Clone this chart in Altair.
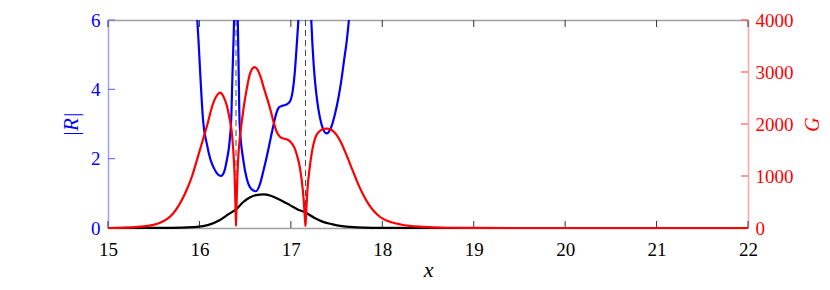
import altair as alt
import pandas as pd

# ---------------- data ----------------
x_ticks = [15, 16, 17, 18, 19, 20, 21, 22]
R_ticks = [0, 2, 4, 6]
G_ticks = [0, 1000, 2000, 3000, 4000]
pole_x = [16.40, 17.16]

# |R| (blue), three branches separated by the poles
r1_x = [15.97, 15.99, 16.01, 16.04, 16.08, 16.12, 16.16, 16.20, 16.235, 16.27, 16.30, 16.33, 16.35, 16.36, 16.375, 16.385]
r1_y = [6.3, 5.4, 4.4, 3.1, 2.44, 1.98, 1.72, 1.55, 1.50, 1.62, 1.96, 2.5, 3.3, 4.3, 5.6, 6.6]

r2_x = [16.415, 16.425, 16.44, 16.48, 16.52, 16.55, 16.59, 16.62, 16.66, 16.70, 16.74, 16.78, 16.81, 16.84,
        16.87, 16.91, 16.95, 16.99, 17.02, 17.04, 17.06, 17.08, 17.095]
r2_y = [6.6, 5.2, 3.0, 1.96, 1.40, 1.19, 1.08, 1.06, 1.25, 1.65, 2.1, 2.6, 2.97, 3.3,
        3.48, 3.53, 3.56, 3.65, 3.95, 4.4, 5.1, 5.9, 6.6]

r3_x = [17.215, 17.225, 17.25, 17.275, 17.30, 17.34, 17.39, 17.44, 17.48, 17.52, 17.55, 17.58, 17.61, 17.635, 17.65]
r3_y = [6.6, 5.9, 4.7, 3.95, 3.45, 2.95, 2.73, 2.9, 3.26, 3.75, 4.22, 4.8, 5.37, 6.0, 6.5]

# G (red, right axis)
g_x = [15.0, 15.2, 15.35, 15.5, 15.57, 15.64, 15.71, 15.78, 15.86, 15.92, 15.97, 16.03, 16.08, 16.15, 16.20,
       16.225, 16.26, 16.30, 16.33, 16.35, 16.37, 16.385, 16.395, 16.40, 16.405, 16.415, 16.43, 16.44, 16.46,
       16.48, 16.52, 16.55, 16.58, 16.60, 16.63, 16.67, 16.70, 16.74, 16.78, 16.81, 16.85, 16.88, 16.92, 16.96,
       17.00, 17.04, 17.07, 17.10, 17.12, 17.14, 17.155, 17.16, 17.165, 17.18, 17.21, 17.25, 17.28, 17.32,
       17.36, 17.40, 17.45, 17.50, 17.55, 17.60, 17.65, 17.70, 17.75, 17.80, 17.85, 17.90, 17.95,
       18.00, 18.10, 18.20, 18.30, 18.40, 18.50, 18.70, 19.0, 20.0, 21.0, 22.0]
g_y = [0, 6, 25, 60, 100, 165, 275, 450, 731, 1000, 1290, 1650, 1948, 2398, 2570,
       2602, 2540, 2350, 2100, 1900, 1500, 1000, 400, 40, 400, 1000, 1500, 1700, 2000,
       2269, 2700, 2950, 3070, 3095, 3060, 2900, 2720, 2494, 2250, 2045, 1830, 1756, 1720, 1700,
       1650, 1540, 1380, 1150, 900, 550, 150, 40, 200, 700, 1212, 1628, 1788, 1870,
       1905, 1912, 1880, 1790, 1640, 1440, 1220, 1000, 790, 610, 460, 340, 250,
       185, 110, 68, 42, 26, 15, 5, 1, 0, 0, 0]

# black curve (left axis)
b_x = [15.0, 15.6, 15.8, 15.97, 16.1, 16.225, 16.32, 16.41, 16.48, 16.55, 16.62, 16.70, 16.78, 16.85,
       16.92, 16.99, 17.08, 17.15, 17.26, 17.36, 17.45, 17.54, 17.65, 17.8, 18.0, 19.0, 22.0]
b_y = [0, 0.003, 0.01, 0.03, 0.09, 0.23, 0.40, 0.56, 0.75, 0.88, 0.95, 0.97, 0.93, 0.85,
       0.76, 0.66, 0.53, 0.46, 0.29, 0.17, 0.11, 0.06, 0.03, 0.01, 0.003, 0, 0]

# ---------------- tables ----------------
blue_df = pd.concat([
    pd.DataFrame({"x": r1_x, "y": r1_y, "seg": "a"}),
    pd.DataFrame({"x": r2_x, "y": r2_y, "seg": "b"}),
    pd.DataFrame({"x": r3_x, "y": r3_y, "seg": "c"}),
], ignore_index=True)
red_df = pd.DataFrame({"x": g_x, "y": g_y})
black_df = pd.DataFrame({"x": b_x, "y": b_y})
pole_df = pd.DataFrame({"x": pole_x})
xt_df = pd.DataFrame({"x": x_ticks})
rt_df = pd.DataFrame({"y": R_ticks})
gt_df = pd.DataFrame({"y": G_ticks})

FONT = "Liberation Serif"
BLUE = "#0000ff"
RED = "#ff0000"
LBLUE = "#a3a3ff"
LRED = "#ffa8a8"
TBLUE = "#7070ff"
TRED = "#ff5a5a"
GRAY_T = "#333333"
GRAY_D = "#a0a0a0"
W, H = 640, 208
TL = 7  # tick length (px)


def xs():
    return alt.Scale(domain=[15, 22], nice=False, zero=False)


def ys_l():
    return alt.Scale(domain=[0, 6], nice=False, zero=True)


def ys_r():
    return alt.Scale(domain=[0, 4000], nice=False, zero=True)


axis_bottom = alt.Axis(
    orient="bottom", values=x_ticks, grid=False, format="d", ticks=False, tickSize=0,
    labelFont=FONT, labelFontSize=19, labelColor="black", labelFlush=False, labelOverlap=False,
    labelPadding=12, domainColor=GRAY_D, domainWidth=1.5,
    title="x", titleFont=FONT, titleFontSize=22, titleFontStyle="italic", titleFontWeight="normal",
    titleColor="black", titleX=320, titleY=48, titleAlign="center", titleBaseline="alphabetic",
)
axis_top = alt.Axis(
    orient="top", values=x_ticks, grid=False, labels=False, ticks=False, tickSize=0,
    domainColor=GRAY_D, domainWidth=1.5, title=None,
)
axis_left = alt.Axis(
    orient="left", values=R_ticks, grid=False, format="d", ticks=False, tickSize=0,
    labelFont=FONT, labelFontSize=19, labelColor=BLUE, labelFlush=False, labelOverlap=False,
    labelPadding=8, domainColor=LBLUE, domainWidth=1.6,
    title="|R|", titleFont=FONT, titleFontSize=21, titleFontStyle="italic", titleFontWeight="normal",
    titleColor=BLUE, titleAngle=270, titleX=-37, titleY=104, titleAlign="center", titleBaseline="middle",
)
axis_right = alt.Axis(
    orient="right", values=G_ticks, grid=False, format="d", ticks=False, tickSize=0,
    labelFont=FONT, labelFontSize=19, labelColor=RED, labelFlush=False, labelOverlap=False,
    labelPadding=7, domainColor=LRED, domainWidth=1.6,
    title="G", titleFont=FONT, titleFontSize=20, titleFontStyle="italic", titleFontWeight="normal",
    titleColor=RED, titleAngle=270, titleX=64, titleY=104, titleAlign="center", titleBaseline="middle",
)

X_b = alt.X("x:Q", scale=xs(), axis=axis_bottom)
Y_l = alt.Y("y:Q", scale=ys_l(), axis=axis_left)

# inward tick marks, placed through the scales (x ticks on bottom/top, |R| ticks on the left)
xt_bottom = alt.Chart(xt_df).mark_tick(orient="vertical", size=TL, thickness=1, color=GRAY_T,
                                       opacity=1, yOffset=-TL / 2).encode(x=X_b, y=alt.datum(0))
xt_top = alt.Chart(xt_df).mark_tick(orient="vertical", size=TL, thickness=1, color=GRAY_T,
                                    opacity=1, yOffset=TL / 2).encode(x=X_b, y=alt.datum(6))
rt_left = alt.Chart(rt_df).mark_tick(orient="horizontal", size=TL, thickness=1.2, color=TBLUE,
                                     opacity=1, xOffset=TL / 2).encode(x=alt.datum(15), y=Y_l)

rules = alt.Chart(pole_df).mark_rule(color="#333333", strokeDash=[6, 4], strokeWidth=0.9).encode(x=X_b)
black_line = alt.Chart(black_df).mark_line(color="black", strokeWidth=2.2, interpolate="monotone").encode(
    x=X_b, y=Y_l)
blue_line = alt.Chart(blue_df).mark_line(color=BLUE, strokeWidth=2.2, clip=True, interpolate="monotone").encode(
    x=X_b, y=Y_l, detail="seg:N")
left = alt.layer(xt_bottom, xt_top, rt_left, rules, black_line, blue_line)

X_r = alt.X("x:Q", scale=xs(), axis=axis_top)
Y_r = alt.Y("y:Q", scale=ys_r(), axis=axis_right)
gt_right = alt.Chart(gt_df).mark_tick(orient="horizontal", size=TL, thickness=1.2, color=TRED,
                                      opacity=1, xOffset=-TL / 2).encode(x=alt.datum(22), y=Y_r)
red_line = alt.Chart(red_df).mark_line(color=RED, strokeWidth=2.2, interpolate="monotone").encode(
    x=X_r, y=Y_r)
right = alt.layer(gt_right, red_line)

chart = alt.layer(left, right).resolve_scale(x="independent", y="independent").properties(
    width=W, height=H,
    autosize=alt.AutoSizeParams(type="none"),
    padding={"left": 100, "top": 12, "right": 74, "bottom": 54},
).configure_view(stroke="transparent")

chart.save("out.html", embed_options={"renderer": "svg", "actions": False})
